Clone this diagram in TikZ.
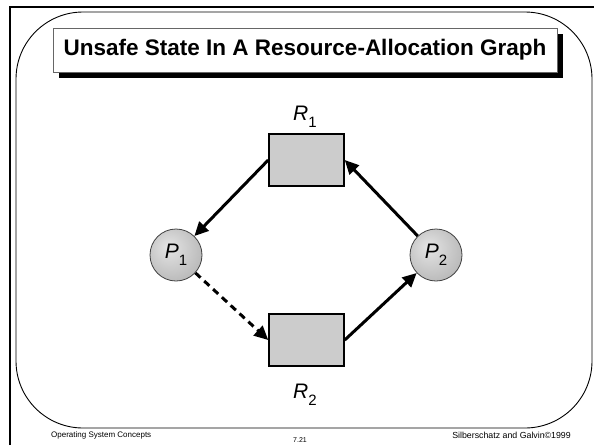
\documentclass[tikz,border=0pt]{standalone}
\usepackage{fontspec}
\setmainfont{Liberation Sans}
\usetikzlibrary{arrows.meta,shapes.geometric}
\pgfdeclareradialshading{procball}{\pgfpoint{-8bp}{8bp}}{color(0bp)=(black!10); color(12bp)=(black!17); color(30bp)=(black!27); color(42bp)=(black!33); color(60bp)=(black!40)}
\newcommand{\lbl}[2]{{\fontsize{21}{21}\selectfont\textit{#1}\raisebox{-7pt}{\fontsize{15}{15}\selectfont #2}}}
\begin{document}
\begin{tikzpicture}[x=1pt,y=-1pt,
  resbox/.style={draw=black,line width=1.5pt,fill=gray!40,minimum width=75pt,minimum height=52pt,inner sep=0pt},
  proc/.style={circle,draw=black!75,line width=0.8pt,shading=procball,minimum size=52pt,inner sep=0pt},
  edge/.style={line width=3pt,-{Triangle[length=14pt,width=13pt]}},
  reqedge/.style={edge,dash pattern=on 7pt off 5pt},
  foot/.style={inner sep=0pt,font=\fontsize{8}{8}\selectfont}]
\useasboundingbox (0,0) rectangle (594,445);
\fill[white] (0,0) rectangle (594,445);
% outer frame
\draw[line width=2.5pt] (10,445) -- (10,7) -- (594,7);
% rounded slide frame
\draw[line width=0.9pt,rounded corners=67pt] (16,12) rectangle (592,428);
% title
\fill[black] (59,34) rectangle (563,78);
\node[draw=black!60,line width=0.8pt,fill=white,minimum width=504pt,minimum height=44pt,inner sep=0pt,
  font=\fontsize{22.5}{23}\selectfont\bfseries] (title) at (305,50) {Unsafe State In A Resource-Allocation Graph};
% nodes
\node[resbox] (R1) at (306.5,160) {};
\node[resbox] (R2) at (306.5,340) {};
\node[proc] (P1) at (176,255) {\lbl{P}{1}};
\node[proc] (P2) at (436,255) {\lbl{P}{2}};
\node[anchor=base west,inner sep=0pt] (R1l) at (293,120) {\lbl{R}{1}};
\node[anchor=base west,inner sep=0pt] (R2l) at (293,398) {\lbl{R}{2}};
% edges
\draw[edge] (R1.west) -- (P1);
\draw[edge] (P2) -- (R1.east);
\draw[edge] (R2.east) -- (P2);
\draw[reqedge] (P1) -- (R2.west);
% footer
\node[foot,anchor=west] (f1) at (51,435) {Operating System Concepts};
\node[foot,font=\fontsize{7}{7}\selectfont] (f2) at (300,440) {7.21};
\node[foot,anchor=east,font=\fontsize{8.8}{9}\selectfont] (f3) at (571,435) {Silberschatz and Galvin\textcopyright1999};
\end{tikzpicture}
\end{document}
